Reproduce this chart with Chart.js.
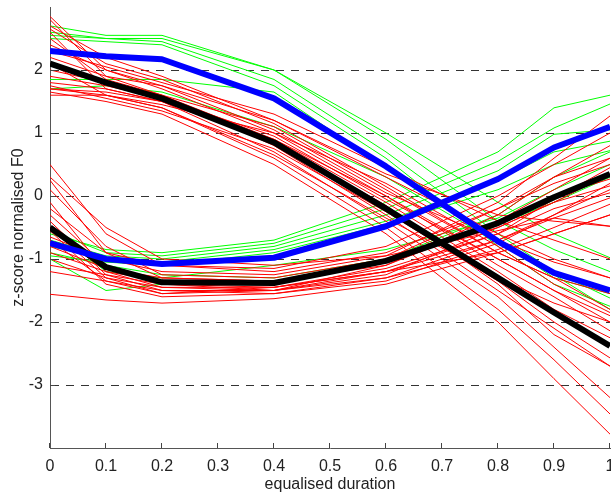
<!DOCTYPE html>
<html>
<head>
<meta charset="utf-8">
<script src="https://cdn.jsdelivr.net/npm/chart.js@4"></script>
<style>
  html, body { margin: 0; padding: 0; background: #fff; }
  #wrap { width: 611px; height: 494px; }
</style>
</head>
<body>
<div id="wrap"><canvas id="f0Chart" width="611" height="494"></canvas></div>
<script>
/* ---------- DATA ---------- */

const xPos = [0, 0.1, 0.2, 0.4, 0.6, 0.8, 0.9, 1];
const xTicks = [0, 0.1, 0.2, 0.3, 0.4, 0.5, 0.6, 0.7, 0.8, 0.9, 1];
const yTicks = [-3, -2, -1, 0, 1, 2];

// falling contours
const redFall = [
  [2.85, 2.0, 1.7, 1.0, 0.0, -1.0, -1.5, -1.9],
  [2.8, 1.9, 1.6, 0.8, -0.3, -1.5, -2.1, -2.7],
  [2.7, 2.2, 1.9, 1.2, 0.3, -0.6, -1.0, -1.3],
  [2.6, 1.7, 1.5, 0.7, -0.4, -1.6, -2.4, -3.2],
  [1.8, 1.7, 1.5, 0.9, -0.1, -1.2, -1.8, -2.25],
  [1.7, 1.6, 1.4, 0.6, -0.5, -1.8, -2.6, -3.46],
  [1.6, 1.6, 1.45, 1.0, 0.2, -0.8, -1.4, -1.85],
  [1.65, 1.5, 1.3, 0.5, -0.6, -2.0, -2.9, -3.78],
  [2.0, 1.8, 1.6, 1.1, 0.1, -0.9, -1.3, -1.8],
  [2.2, 1.9, 1.75, 1.2, 0.35, -0.3, -0.4, -0.48],
  [2.5, 1.85, 1.6, 0.9, 0.0, -1.1, -1.6, -2.14],
  [1.75, 1.55, 1.35, 0.75, -0.25, -1.35, -2.0, -2.57],
  [2.3, 2.05, 1.8, 1.3, 0.45, -0.4, -0.7, -1.0],
  [1.9, 1.75, 1.55, 0.95, -0.05, -1.0, -1.5, -2.0],
  [2.65, 2.1, 1.85, 1.15, 0.15, -0.9, -1.3, -1.55],
  [1.7, 1.65, 1.5, 0.85, -0.15, -1.4, -2.2, -2.7],
  [2.1, 1.6, 1.4, 0.65, -0.35, -1.3, -1.7, -2.0],
  [2.4, 2.0, 1.75, 1.05, 0.05, -0.7, -1.05, -1.3]
];
const greenFall = [
  [2.7, 2.55, 2.55, 2.0, 1.0, -0.1, -0.6, -0.98],
  [2.6, 2.5, 2.45, 1.85, 0.7, -0.6, -1.2, -1.62],
  [2.5, 2.45, 2.4, 1.75, 0.6, -0.8, -1.4, -1.75],
  [1.85, 1.85, 1.85, 1.65, 0.45, -0.7, -1.3, -1.55],
  [1.7, 1.75, 1.65, 1.1, 0.3, -0.75, -1.25, -1.8],
  [2.55, 2.5, 2.5, 2.0, 0.9, -0.4, -0.85, -1.2]
];

// rising contours
const redRise = [
  [0.5, -0.6, -1.1, -1.2, -0.9, -0.2, 0.3, 0.6],
  [0.25, -0.9, -1.3, -1.35, -1.05, -0.4, 0.0, 0.27],
  [0.1, -0.8, -1.25, -1.3, -1.0, -0.5, -0.1, 0.16],
  [-0.1, -1.2, -1.45, -1.45, -1.15, -0.6, -0.2, 0.05],
  [-0.3, -1.1, -1.4, -1.5, -1.2, -0.7, -0.35, -0.03],
  [-0.4, -1.25, -1.5, -1.5, -1.3, -0.85, -0.5, -0.13],
  [-0.5, -1.3, -1.55, -1.45, -1.2, -0.9, -0.6, -0.3],
  [-0.65, -1.0, -1.2, -1.25, -0.95, -0.1, 0.6, 1.27],
  [-0.8, -1.15, -1.3, -1.35, -1.1, -0.3, 0.3, 0.8],
  [-0.9, -1.2, -1.35, -1.4, -1.0, -0.2, 0.2, 0.5],
  [-1.0, -1.3, -1.45, -1.5, -1.25, -0.5, -0.1, 0.35],
  [-1.2, -1.35, -1.5, -1.55, -1.3, -0.7, -0.3, 0.1],
  [-1.56, -1.65, -1.7, -1.63, -1.4, -0.9, -0.6, -0.3],
  [-0.2, -0.9, -1.1, -1.15, -0.8, 0.0, 0.5, 1.0],
  [0.3, -0.5, -1.0, -1.1, -0.95, -0.55, -0.35, -0.48],
  [-0.55, -1.4, -1.6, -1.55, -1.35, -0.75, -0.3, 0.2],
  [-1.1, -1.25, -1.4, -1.45, -1.2, -0.6, -0.05, 0.45],
  [-0.7, -1.35, -1.55, -1.5, -1.1, -0.4, 0.1, 0.6]
];
const greenRise = [
  [-0.6, -0.85, -0.9, -0.7, -0.1, 0.7, 1.4, 1.6],
  [-0.55, -0.9, -0.95, -0.75, -0.2, 0.55, 1.08, 1.46],
  [-0.7, -0.95, -1.0, -0.8, -0.3, 0.4, 0.98, 1.05],
  [-0.8, -1.0, -1.05, -0.85, -0.4, 0.25, 0.7, 0.87],
  [-0.95, -1.05, -1.1, -0.9, -0.45, 0.1, 0.5, 0.72],
  [-0.5, -1.2, -1.3, -1.1, -0.85, -0.35, 0.1, 0.5],
  [-1.0, -1.5, -1.4, -1.35, -1.05, -0.45, -0.1, 0.3],
  [-0.9, -1.1, -1.25, -1.3, -1.0, -0.3, 0.3, 0.7]
];

// mean contours
const blueFallMean = [2.3, 2.22, 2.17, 1.55, 0.47, -0.72, -1.22, -1.5];
const blackFallMean = [2.1, 1.8, 1.55, 0.85, -0.2, -1.3, -1.85, -2.38];
const blueRiseMean = [-0.75, -1.0, -1.08, -0.98, -0.48, 0.27, 0.77, 1.1];
const blackRiseMean = [-0.5, -1.13, -1.37, -1.38, -1.03, -0.43, -0.02, 0.35];

/* ---------- BUILD DATASETS ---------- */

function pts(vals) {
  return vals.map((v, i) => ({x: xPos[i], y: v}));
}
function thin(vals, col) {
  return {data: pts(vals), borderColor: col, borderWidth: 1, order: 2};
}
function thick(vals, col, ord) {
  return {data: pts(vals), borderColor: col, borderWidth: 6, order: ord};
}

const datasets = [];
redFall.forEach(v => datasets.push(thin(v, '#ff0000')));
redRise.forEach(v => datasets.push(thin(v, '#ff0000')));
greenFall.forEach(v => datasets.push(thin(v, '#00ff00')));
greenRise.forEach(v => datasets.push(thin(v, '#00ff00')));
datasets.push(thick(blackFallMean, '#000000', 1));
datasets.push(thick(blackRiseMean, '#000000', 1));
datasets.push(thick(blueFallMean, '#0000ff', 0));
datasets.push(thick(blueRiseMean, '#0000ff', 0));

// small tick marks pointing into the plot, like the original
const innerTicks = {
  id: 'innerTicks',
  afterDraw(chart) {
    const ctx = chart.ctx, a = chart.chartArea;
    const xs = chart.scales.x, ys = chart.scales.y;
    ctx.save();
    ctx.strokeStyle = '#444';
    ctx.lineWidth = 1;
    ctx.beginPath();
    xTicks.forEach(t => {
      const px = Math.round(xs.getPixelForValue(t)) - 0.5;
      ctx.moveTo(px, a.bottom);
      ctx.lineTo(px, a.bottom - 5);
    });
    yTicks.forEach(t => {
      const py = Math.round(ys.getPixelForValue(t)) + 0.5;
      ctx.moveTo(a.left, py);
      ctx.lineTo(a.left + 5, py);
    });
    ctx.stroke();
    ctx.restore();
  }
};

const font = {family: "'Liberation Sans', Arial, sans-serif", size: 16};

try {
  new Chart(document.getElementById('f0Chart'), {
    type: 'line',
    data: {datasets: datasets},
    options: {
      responsive: false,
      animation: false,
      events: [],
      elements: {
        point: {radius: 0},
        line: {tension: 0, fill: false, borderJoinStyle: 'round'}
      },
      layout: {padding: {top: 7, right: 1, left: 0, bottom: 0}},
      plugins: {legend: {display: false}, tooltip: {enabled: false}},
      scales: {
        x: {
          type: 'linear',
          min: 0, max: 1,
          afterBuildTicks: s => { s.ticks = xTicks.map(v => ({value: v})); },
          afterFit: s => { s.height = 46; s.paddingLeft = 0; s.paddingRight = 0; },
          grid: {display: false, drawTicks: false},
          border: {display: true, color: '#555', width: 1},
          ticks: {
            color: '#222', font: font, padding: 9, maxRotation: 0,
            callback: v => String(Math.round(v * 10) / 10)
          },
          title: {display: true, text: 'equalised duration', color: '#222', font: font, padding: {top: 0, bottom: 0}}
        },
        y: {
          type: 'linear',
          min: -4, max: 3,
          afterBuildTicks: s => { s.ticks = yTicks.map(v => ({value: v})); },
          afterFit: s => { s.width = 50; s.paddingTop = 0; s.paddingBottom = 0; },
          grid: {display: true, drawTicks: false, color: '#333', lineWidth: 1},
          border: {display: true, color: '#555', width: 1, dash: [8, 7]},
          ticks: {color: '#222', font: font, padding: 7},
          title: {display: true, text: 'z-score normalised F0', color: '#222', font: font, padding: {top: 9, bottom: 0}}
        }
      }
    },
    plugins: [innerTicks]
  });
} catch (e) {
  console.error('Error initializing F0 chart:', e);
}
</script>
</body>
</html>
